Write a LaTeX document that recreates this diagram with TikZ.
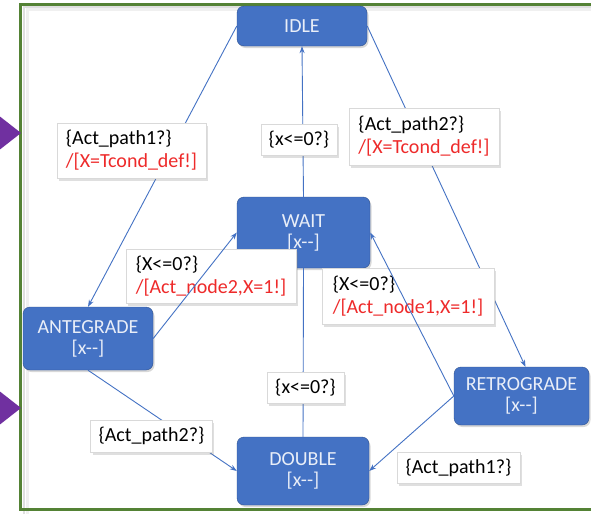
\documentclass[tikz,border=0pt]{standalone}
\usepackage{fontspec}
\setmainfont{Carlito}
\usetikzlibrary{arrows.meta,shadows}

\definecolor{stateblue}{HTML}{4472C4}
\definecolor{stateline}{HTML}{2F528F}
\definecolor{framegreen}{HTML}{548235}
\definecolor{markpurple}{HTML}{7030A0}
\definecolor{actred}{HTML}{EE2A2A}

\newcommand{\xdec}{[x-{}-]}

\begin{document}
\begin{tikzpicture}[x=1pt,y=-1pt,
		state/.style={rectangle,rounded corners=7pt,draw=stateline,fill=stateblue,
			text=white!88!stateblue,align=center,font=\fontsize{20}{21}\selectfont,
			drop shadow={shadow xshift=1.5pt,shadow yshift=-2pt,opacity=0.3}},
		guard/.style={rectangle,draw=gray!30,fill=white,align=left,
			font=\fontsize{20}{23}\selectfont,inner xsep=8pt,inner ysep=4pt,
			drop shadow={shadow xshift=2pt,shadow yshift=-2.5pt,opacity=0.25}},
		trans/.style={draw=stateblue,line width=0.9pt,-{Stealth[length=7pt,width=5pt]}},
		link/.style={draw=stateblue,line width=0.9pt}]

	\useasboundingbox (0,0) rectangle (591,514);
	\fill[white] (0,0) rectangle (591,514);

	% frame and side markers
	\draw[gray!12,line width=3pt] (27,514) -- (27,9) -- (600,9);
	\draw[gray!25,line width=2pt] (24,514) -- (24,6.5) -- (600,6.5);
	\draw[framegreen,line width=3pt] (600,4) -- (20.5,4) -- (20.5,509.5) -- (600,509.5);
	\fill[markpurple] (-2,115) -- (21,133) -- (-2,151) -- cycle;
	\fill[markpurple] (-2,390) -- (21,408) -- (-2,426) -- cycle;

	% states
	\node[state,minimum width=130pt,minimum height=40pt] (idle) at (302,26) {IDLE};
	\node[state,minimum width=133pt,minimum height=71pt] (wait) at (303.5,232.5) {WAIT\\\xdec};
	\node[state,minimum width=130pt,minimum height=63pt] (ante) at (88,338.5) {ANTEGRADE\\\xdec};
	\node[state,minimum width=132pt,minimum height=68pt] (double) at (303,471) {DOUBLE\\\xdec};
	\node[state,minimum width=135pt,minimum height=58pt] (retro) at (521.5,396) {RETROGRADE\\\xdec};

	% transitions under the guards
	\draw[trans] (idle.west) -- (ante.north);
	\draw[trans] (idle.east) -- ([xshift=4pt]retro.north);
	\draw[trans] (wait.north) -- (idle.south);
	\draw[link] (wait.south) -- (double.north);
	\draw[trans] (ante.south) -- (double.west);
	\draw[trans] (retro.west) -- (double.east);

	% guards
	\node[guard,minimum width=149pt,minimum height=55pt] (gantein) at (131.5,150.5)
		{\{Act\_path1?\}\\\textcolor{actred}{/[X=Tcond\_def!]}};
	\node[guard,minimum width=150pt,minimum height=57pt] (gretroin) at (424,136.5)
		{\{Act\_path2?\}\\\textcolor{actred}{/[X=Tcond\_def!]}};
	\node[guard,minimum width=76pt,minimum height=31pt] (gidle) at (299,139.5) {\{x<=0?\}};
	\node[guard,minimum width=170pt,minimum height=54pt] (gantewait) at (211,276)
		{\{X<=0?\}\\\textcolor{actred}{/[Act\_node2,X=1!]}};
	\node[guard,minimum width=172pt,minimum height=56pt] (gretrowait) at (408,296)
		{\{X<=0?\}\\\textcolor{actred}{/[Act\_node1,X=1!]}};
	\node[guard,minimum width=75pt,minimum height=31pt] (gdouble) at (305.5,387.5) {\{x<=0?\}};
	\node[guard,minimum width=121pt,minimum height=32pt] (gantedouble) at (151.5,436) {\{Act\_path2?\}};
	\node[guard,minimum width=123pt,minimum height=31pt] (gretrodouble) at (458.5,467.5) {\{Act\_path1?\}};

	% transitions over the guards
	\draw[trans] (ante.east) -- (wait.west);
	\draw[trans] (retro.west) -- (wait.east);

\end{tikzpicture}
\end{document}
